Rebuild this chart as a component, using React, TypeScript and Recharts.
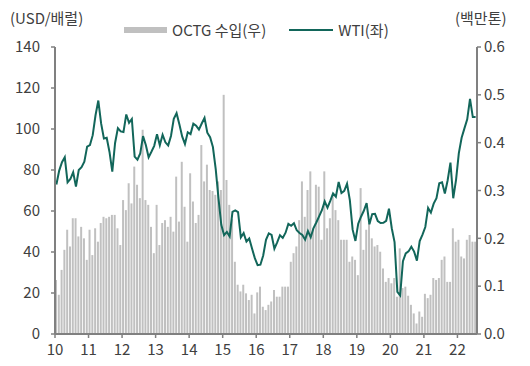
import React from 'react';
import { ComposedChart, Bar, Line, XAxis, YAxis } from 'recharts';

// WTI, month-end (USD/bbl), left axis
const wti2010 = [72.9, 79.7, 83.8, 86.2, 74.0, 75.6, 78.9, 71.9, 80.0, 81.4, 84.1, 91.4];
const wti2011 = [92.2, 97.0, 106.7, 113.9, 102.7, 95.4, 95.7, 88.8, 79.2, 93.2, 100.4, 98.8];
const wti2012 = [98.5, 107.1, 103.0, 104.9, 86.5, 85.0, 88.1, 96.5, 92.2, 86.2, 88.9, 91.8];
const wti2013 = [97.5, 92.1, 97.2, 93.5, 92.0, 96.6, 105.0, 107.7, 102.3, 96.4, 92.7, 98.4];
const wti2014 = [97.5, 102.6, 101.6, 99.7, 102.7, 105.4, 98.2, 96.0, 91.2, 80.5, 66.2, 53.3];
const wti2015 = [48.2, 49.8, 47.6, 59.6, 60.3, 59.5, 47.1, 49.2, 45.1, 46.6, 41.7, 37.0];
const wti2016 = [33.6, 33.8, 38.3, 45.9, 49.1, 48.3, 41.6, 44.7, 48.2, 46.9, 49.4, 53.7];
const wti2017 = [52.8, 54.0, 50.6, 49.3, 48.3, 46.0, 50.2, 47.2, 51.7, 54.4, 57.4, 60.4];
const wti2018 = [64.7, 61.6, 64.9, 68.6, 67.0, 74.2, 68.8, 69.8, 73.3, 65.3, 50.9, 45.4];
const wti2019 = [53.8, 57.2, 60.1, 63.9, 53.5, 58.5, 58.6, 55.1, 54.1, 54.2, 55.2, 61.1];
const wti2020 = [51.6, 44.8, 20.5, 18.8, 35.5, 39.3, 40.3, 42.6, 40.2, 35.8, 45.3, 48.5];
const wti2021 = [52.2, 61.5, 59.2, 63.6, 66.3, 73.5, 74.0, 68.5, 75.0, 83.6, 66.2, 75.2];
const wti2022 = [88.2, 95.7, 100.3, 104.7, 114.7, 105.8, 105.8];

// OCTG imports (million tons), right axis
const octg2010 = [0.113, 0.082, 0.134, 0.176, 0.218, 0.183, 0.242, 0.242, 0.204, 0.224, 0.2, 0.155];
const octg2011 = [0.218, 0.165, 0.221, 0.193, 0.232, 0.245, 0.242, 0.245, 0.249, 0.249, 0.221, 0.186];
const octg2012 = [0.28, 0.259, 0.315, 0.273, 0.35, 0.312, 0.284, 0.427, 0.28, 0.27, 0.224, 0.169];
const octg2013 = [0.27, 0.186, 0.232, 0.238, 0.224, 0.245, 0.214, 0.329, 0.235, 0.36, 0.266, 0.193];
const octg2014 = [0.336, 0.277, 0.232, 0.249, 0.395, 0.319, 0.354, 0.301, 0.299, 0.291, 0.319, 0.301];
const octg2015 = [0.5, 0.322, 0.27, 0.24, 0.151, 0.103, 0.089, 0.103, 0.085, 0.071, 0.082, 0.043];
const octg2016 = [0.087, 0.099, 0.057, 0.05, 0.061, 0.068, 0.092, 0.078, 0.078, 0.099, 0.099, 0.099];
const octg2017 = [0.151, 0.169, 0.183, 0.238, 0.319, 0.245, 0.301, 0.34, 0.221, 0.312, 0.308, 0.197];
const octg2018 = [0.34, 0.221, 0.242, 0.291, 0.259, 0.238, 0.197, 0.197, 0.197, 0.151, 0.162, 0.155];
const octg2019 = [0.123, 0.305, 0.176, 0.218, 0.232, 0.2, 0.183, 0.186, 0.172, 0.137, 0.109, 0.117];
const octg2020 = [0.106, 0.117, 0.078, 0.179, 0.096, 0.099, 0.08, 0.061, 0.043, 0.022, 0.047, 0.036];
const octg2021 = [0.084, 0.075, 0.082, 0.117, 0.113, 0.117, 0.155, 0.162, 0.109, 0.109, 0.221, 0.193];
const octg2022 = [0.197, 0.162, 0.158, 0.197, 0.207, 0.193, 0.193];

const yearLabels = ['10', '11', '12', '13', '14', '15', '16', '17', '18', '19', '20', '21', '22'];

const wti = [
  ...wti2010, ...wti2011, ...wti2012, ...wti2013, ...wti2014, ...wti2015, ...wti2016,
  ...wti2017, ...wti2018, ...wti2019, ...wti2020, ...wti2021, ...wti2022,
];
const octg = [
  ...octg2010, ...octg2011, ...octg2012, ...octg2013, ...octg2014, ...octg2015, ...octg2016,
  ...octg2017, ...octg2018, ...octg2019, ...octg2020, ...octg2021, ...octg2022,
];

const data = wti.map((w, i) => ({ i, wti: w, octg: octg[i] }));
const yearTicks = yearLabels.map((_, k) => k * 12 - 0.5);

const FONT = '"Noto Sans CJK KR", "Noto Sans", sans-serif';
const TEXT = '#404040';
const AXIS = '#808080';
const BAR = '#c0c0c0';
const LINE = '#12665a';

export default function App() {
  return (
    <div style={{ position: 'absolute', left: 0, top: 0, width: 530, height: 366, background: '#fff' }}>
      <div style={{ position: 'absolute', left: 10, top: 7, fontFamily: FONT, fontSize: 15, color: TEXT }}>(USD/배럴)</div>
      <div style={{ position: 'absolute', left: 455, top: 7, fontFamily: FONT, fontSize: 15, color: TEXT }}>(백만톤)</div>
      <div
        style={{
          position: 'absolute', left: 124, top: 19, display: 'flex', alignItems: 'center',
          fontFamily: FONT, fontSize: 15, color: TEXT,
        }}
      >
        <span style={{ display: 'inline-block', width: 43, height: 6, background: BAR, marginRight: 5 }} />
        <span style={{ marginRight: 23 }}>OCTG 수입(우)</span>
        <span style={{ display: 'inline-block', width: 44, height: 2, background: LINE, marginRight: 5 }} />
        <span>WTI(좌)</span>
      </div>
      <ComposedChart
        width={530}
        height={366}
        data={data}
        margin={{ top: 47, right: 0, left: 0, bottom: 2 }}
        barGap={0}
      >
        <XAxis
          dataKey="i"
          type="number"
          domain={[-0.5, 150.5]}
          ticks={yearTicks}
          tickFormatter={(v: number) => yearLabels[Math.round((v + 0.5) / 12)]}
          height={30}
          axisLine={{ stroke: AXIS, strokeWidth: 2 }}
          tickLine={{ stroke: AXIS, strokeWidth: 1.5 }}
          tickSize={4}
          tickMargin={6}
          tick={{ fill: TEXT, fontSize: 15, fontFamily: FONT }}
          allowDataOverflow
        />
        <YAxis
          yAxisId="left"
          orientation="left"
          domain={[0, 140]}
          ticks={[0, 20, 40, 60, 80, 100, 120, 140]}
          width={55}
          axisLine={{ stroke: AXIS, strokeWidth: 2 }}
          tickLine={{ stroke: AXIS, strokeWidth: 1.5 }}
          tickSize={4}
          tickMargin={11}
          tick={{ fill: TEXT, fontSize: 15, fontFamily: FONT }}
        />
        <YAxis
          yAxisId="right"
          orientation="right"
          domain={[0, 0.6]}
          ticks={[0, 0.1, 0.2, 0.3, 0.4, 0.5, 0.6]}
          tickFormatter={(v: number) => v.toFixed(1)}
          width={53}
          axisLine={{ stroke: AXIS, strokeWidth: 2 }}
          tickLine={{ stroke: AXIS, strokeWidth: 1.5 }}
          tickSize={4}
          tickMargin={3}
          tick={{ fill: TEXT, fontSize: 15, fontFamily: FONT }}
        />
        <Bar yAxisId="right" dataKey="octg" fill={BAR} barSize={2} isAnimationActive={false} name="OCTG 수입(우)" />
        <Line
          yAxisId="left"
          dataKey="wti"
          stroke={LINE}
          strokeWidth={2}
          dot={false}
          type="linear"
          isAnimationActive={false}
          name="WTI(좌)"
        />
      </ComposedChart>
    </div>
  );
}
